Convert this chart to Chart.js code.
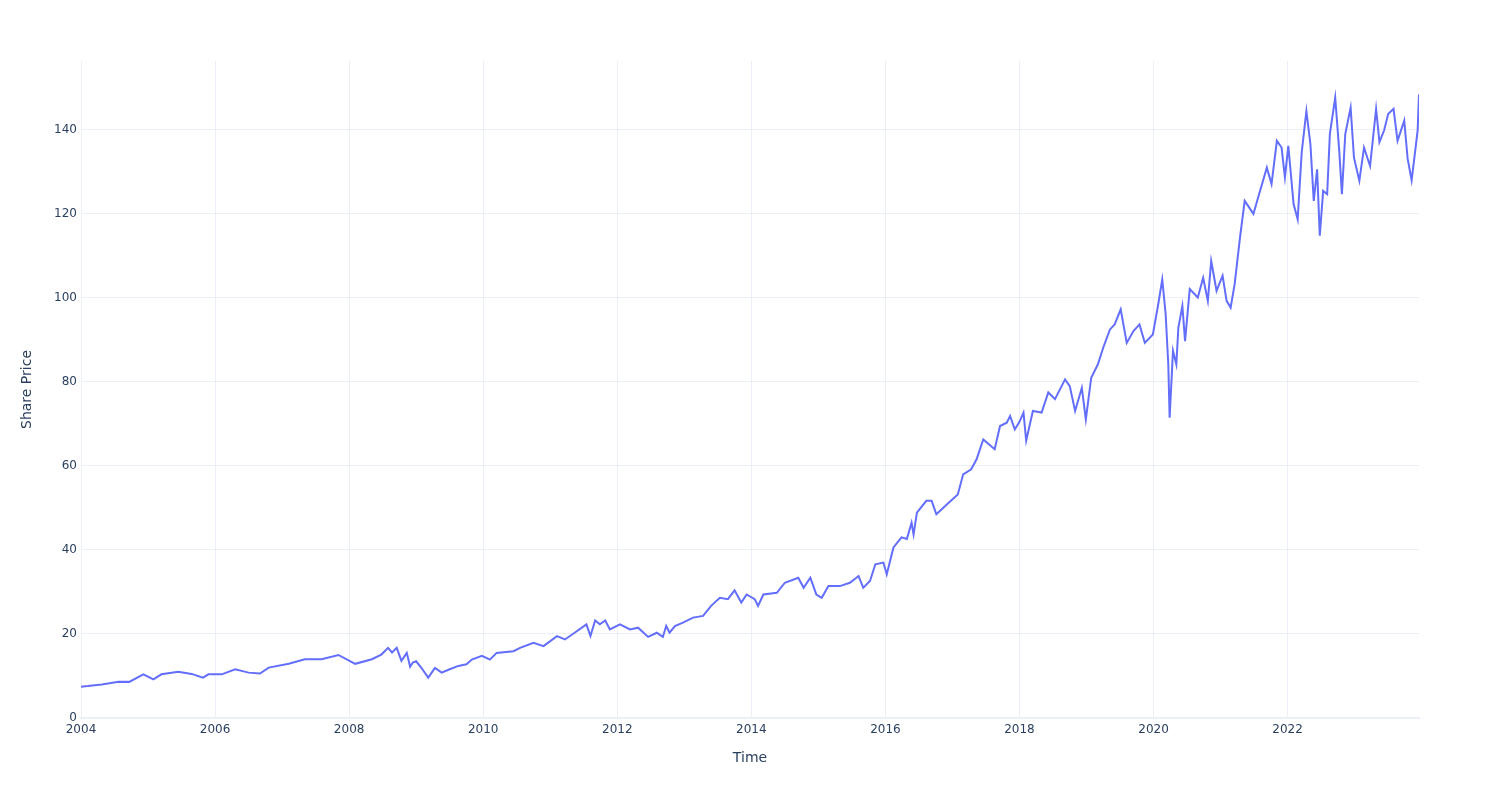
<!DOCTYPE html>
<html>
<head>
<meta charset="utf-8">
<script src="https://cdn.jsdelivr.net/npm/chart.js@4/dist/chart.umd.min.js"></script>
<style>
  html, body { margin: 0; padding: 0; background: #fff; }
  #wrap { width: 1500px; height: 800px; position: relative; }
</style>
</head>
<body>
<div id="wrap"><canvas id="chart"></canvas></div>
<script>
// time as decimal years
const years = [
  2004.00, 2004.10, 2004.31, 2004.56, 2004.72, 2004.93, 2005.08, 2005.20, 2005.45, 2005.65,
  2005.82, 2005.90, 2006.10, 2006.30, 2006.50, 2006.67, 2006.80, 2007.10, 2007.34, 2007.59,
  2007.84, 2008.09, 2008.34, 2008.48, 2008.58, 2008.64, 2008.71, 2008.78, 2008.86, 2008.91,
  2008.95, 2009.00, 2009.08, 2009.18, 2009.28, 2009.38, 2009.50, 2009.63, 2009.75, 2009.83,
  2009.98, 2010.10, 2010.20, 2010.45, 2010.55, 2010.75, 2010.90, 2011.10, 2011.22, 2011.39,
  2011.54, 2011.60, 2011.67, 2011.74, 2011.82, 2011.89, 2012.04, 2012.19, 2012.31, 2012.46,
  2012.59, 2012.68, 2012.73, 2012.78, 2012.86, 2012.98, 2013.13, 2013.28, 2013.40, 2013.53,
  2013.65, 2013.75, 2013.85, 2013.93, 2014.05, 2014.10, 2014.18, 2014.38, 2014.50, 2014.70,
  2014.78, 2014.88, 2014.97, 2015.05, 2015.15, 2015.32, 2015.47, 2015.60, 2015.67, 2015.77,
  2015.85, 2015.97, 2016.02, 2016.12, 2016.24, 2016.32, 2016.39, 2016.42, 2016.47, 2016.61,
  2016.69, 2016.76, 2016.94, 2017.08, 2017.16, 2017.28, 2017.36, 2017.46, 2017.63, 2017.71,
  2017.81, 2017.86, 2017.93, 2018.00, 2018.06, 2018.10, 2018.20, 2018.33, 2018.43, 2018.53,
  2018.68, 2018.75, 2018.83, 2018.93, 2018.99, 2019.07, 2019.17, 2019.25, 2019.35, 2019.42,
  2019.51, 2019.60, 2019.70, 2019.79, 2019.87, 2019.99, 2020.07, 2020.13, 2020.18, 2020.22,
  2020.24, 2020.29, 2020.34, 2020.37, 2020.43, 2020.47, 2020.54, 2020.66, 2020.74, 2020.81,
  2020.86, 2020.94, 2021.03, 2021.09, 2021.15, 2021.21, 2021.29, 2021.36, 2021.49, 2021.56,
  2021.69, 2021.76, 2021.84, 2021.91, 2021.96, 2022.01, 2022.09, 2022.15, 2022.21, 2022.28,
  2022.34, 2022.39, 2022.44, 2022.48, 2022.53, 2022.59, 2022.63, 2022.71, 2022.77, 2022.81,
  2022.86, 2022.94, 2022.99, 2023.07, 2023.14, 2023.23, 2023.32, 2023.37, 2023.44, 2023.50,
  2023.58, 2023.64, 2023.74, 2023.79, 2023.85, 2023.90, 2023.94, 2023.96
]

const prices = [
  7.45, 7.6, 8.0, 8.65, 8.6, 10.4, 9.2, 10.4, 11.0, 10.5,
  9.6, 10.4, 10.4, 11.6, 10.8, 10.6, 12.0, 12.9, 14.0, 14.0,
  15.0, 12.9, 14.0, 15.1, 16.7, 15.6, 16.7, 13.6, 15.5, 12.2,
  13.2, 13.5, 11.9, 9.6, 11.9, 10.8, 11.6, 12.4, 12.8, 13.9,
  14.8, 13.9, 15.5, 15.9, 16.7, 17.9, 17.1, 19.5, 18.7, 20.6,
  22.3, 19.5, 23.2, 22.3, 23.2, 21.1, 22.3, 21.1, 21.5, 19.3,
  20.3, 19.3, 21.9, 20.3, 21.9, 22.7, 23.9, 24.3, 26.7, 28.6,
  28.3, 30.4, 27.5, 29.4, 28.3, 26.7, 29.4, 29.8, 32.2, 33.4,
  31.0, 33.4, 29.4, 28.6, 31.4, 31.4, 32.2, 33.8, 31.0, 32.6,
  36.6, 37.0, 34.2, 40.6, 43.0, 42.6, 46.5, 43.7, 48.9, 51.7,
  51.7, 48.5, 51.2, 53.2, 58.0, 59.2, 61.6, 66.3, 64.0, 69.5,
  70.3, 71.9, 68.7, 70.5, 72.7, 66.0, 73.1, 72.7, 77.5, 75.9,
  80.6, 79.0, 73.1, 78.6, 71.1, 81.0, 84.2, 88.2, 92.5, 93.7,
  97.3, 89.3, 92.1, 93.7, 89.3, 91.3, 98.5, 104.4, 96.3, 84.2,
  71.5, 87.4, 84.2, 92.9, 98.1, 89.7, 102.1, 100.1, 104.8, 99.3,
  108.8, 101.7, 105.3, 99.3, 97.7, 103.3, 114.4, 123.1, 120.0, 123.9,
  131.0, 127.1, 137.4, 135.8, 128.7, 136.2, 122.3, 118.7, 134.6, 144.5,
  136.6, 123.1, 130.6, 114.8, 125.5, 124.7, 139.0, 147.7, 135.0, 124.7,
  139.0, 145.3, 133.4, 127.9, 135.8, 131.4, 145.0, 137.1, 139.9, 143.8,
  145.0, 137.4, 142.2, 133.2, 128.0, 134.6, 139.9, 148.5
]

const xTickYears = [2004, 2006, 2008, 2010, 2012, 2014, 2016, 2018, 2020, 2022]
const yTickValues = [0, 20, 40, 60, 80, 100, 120, 140]

const textColor = "#2a3f5f"
const gridColor = "#ebf0f8"
const fontFamily = "'DejaVu Sans', Verdana, sans-serif"

new Chart(document.getElementById("chart").getContext("2d"), {
  type: "line",
  data: {
    datasets: [
      {
        label: "Share Price",
        data: years.map((x, i) => ({ x, y: prices[i] })),
        borderColor: "#636efa",
        borderWidth: 2,
        pointRadius: 0,
        tension: 0,
        fill: false,
      },
    ],
  },
  options: {
    responsive: true,
    maintainAspectRatio: false,
    animation: false,
    layout: {
      padding: { top: 61, right: 81, bottom: 0, left: 0 },
    },
    plugins: {
      legend: { display: false },
      tooltip: { enabled: false },
    },
    scales: {
      x: {
        type: "linear",
        min: 2004,
        max: years[years.length - 1],
        afterFit: (s) => { s.height = 82 },
        afterBuildTicks: (s) => { s.ticks = xTickYears.map((v) => ({ value: v })) },
        grid: { color: gridColor, drawTicks: false },
        border: { color: gridColor, width: 2 },
        ticks: {
          color: textColor,
          padding: 5,
          maxRotation: 0,
          autoSkip: false,
          font: { family: fontFamily, size: 12 },
          callback: (v) => String(v),
        },
        title: {
          display: true,
          text: "Time",
          color: textColor,
          padding: { top: 0, bottom: 33 },
          font: { family: fontFamily, size: 14 },
        },
      },
      y: {
        min: 0,
        max: 156.4,
        afterFit: (s) => { s.width = 81 },
        afterBuildTicks: (s) => { s.ticks = yTickValues.map((v) => ({ value: v })) },
        grid: { color: gridColor, drawTicks: false },
        border: { display: false },
        ticks: {
          color: textColor,
          padding: 4,
          font: { family: fontFamily, size: 12 },
        },
        title: {
          display: true,
          text: "Share Price",
          color: textColor,
          padding: { top: 19, bottom: 0 },
          font: { family: fontFamily, size: 14 },
        },
      },
    },
  },
})
</script>
</body>
</html>
